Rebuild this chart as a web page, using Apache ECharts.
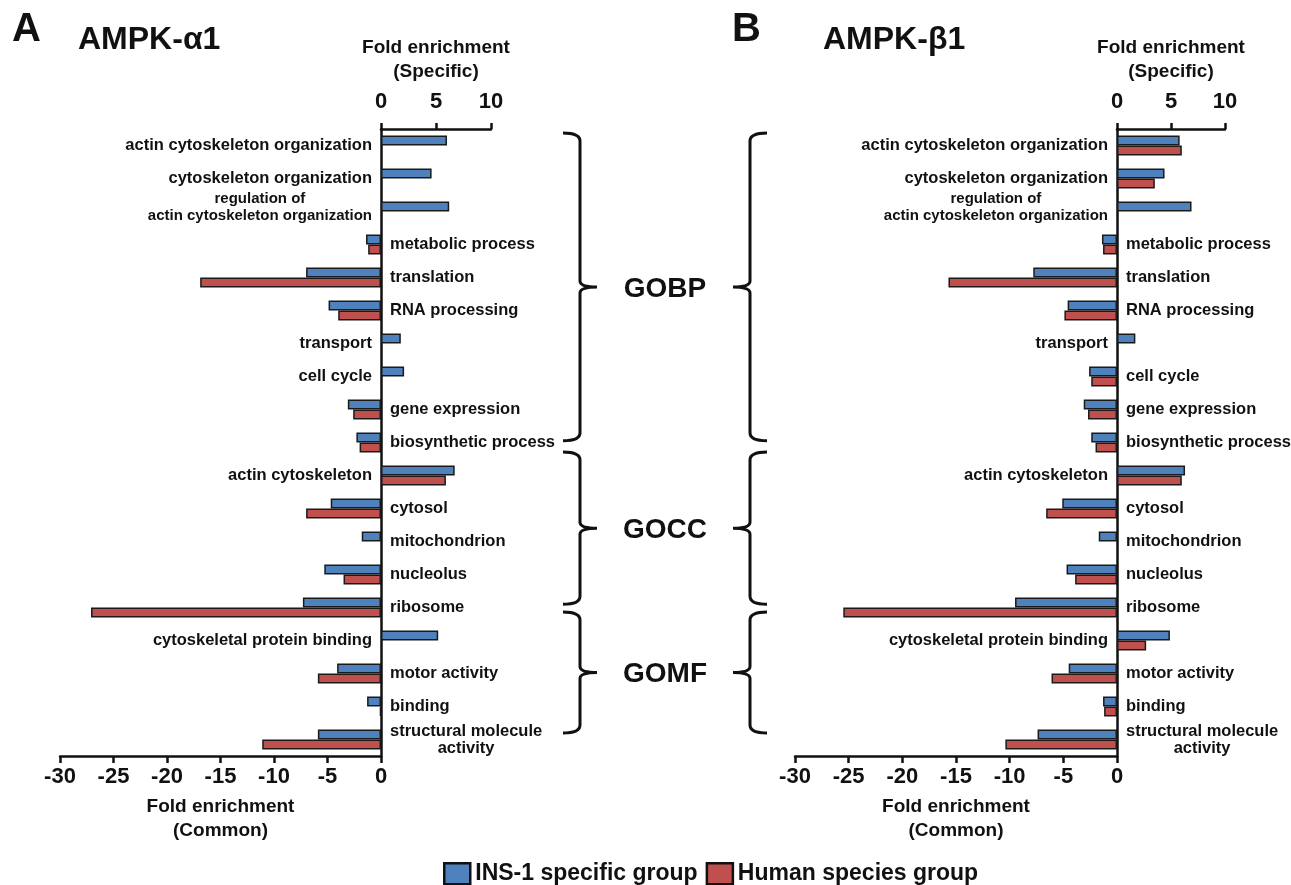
<!DOCTYPE html>
<html><head><meta charset="utf-8">
<script src="https://cdn.jsdelivr.net/npm/echarts@6/dist/echarts.min.js"></script>
<style>html,body{margin:0;padding:0;background:#fff}#c{width:1291px;height:885px}</style>
</head><body><div id="c"></div>
<script>
const categories = [
  'actin cytoskeleton organization', 'cytoskeleton organization',
  'regulation of\nactin cytoskeleton organization', 'metabolic process',
  'translation', 'RNA processing', 'transport', 'cell cycle', 'gene expression',
  'biosynthetic process', 'actin cytoskeleton', 'cytosol', 'mitochondrion',
  'nucleolus', 'ribosome', 'cytoskeletal protein binding', 'motor activity',
  'binding', 'structural molecule\nactivity'
];
const a1Ins   = [6.0, 4.6, 6.2, -1.4, -7.0, -4.9, 1.8, 2.1, -3.1, -2.3, 6.7, -4.7, -1.8, -5.3, -7.3, 5.2, -4.1, -1.3, -5.9];
const a1Human = [null, null, null, -1.2, -16.9, -4.0, null, null, -2.6, -2.0, 5.9, -7.0, null, -3.5, -27.1, null, -5.9, -0.1, -11.1];
const b1Ins   = [5.8, 4.4, 6.9, -1.4, -7.8, -4.6, 1.7, -2.6, -3.1, -2.4, 6.3, -5.1, -1.7, -4.7, -9.5, 4.9, -4.5, -1.3, -7.4];
const b1Human = [6.0, 3.5, null, -1.3, -15.7, -4.9, null, -2.4, -2.7, -2.0, 6.0, -6.6, null, -3.9, -25.5, 2.7, -6.1, -1.2, -10.4];
const commonTicks = [-30, -25, -20, -15, -10, -5, 0];
const specificTicks = [0, 5, 10];
const seriesNames = ['INS-1 specific group', 'Human species group'];
const panelTitles = ['AMPK-\u03b11', 'AMPK-\u03b21'];
const panelLetters = ['A', 'B'];
const groupNames = ['GOBP', 'GOCC', 'GOMF'];
const groupStart = [0, 10, 15];
const groupEnd = [9, 14, 18];

// styling constants (bracket extents in band units)
const braceTopPad = [0.38, 0.71, 0.86];
const braceBotPad = [-0.05, -0.1, -0.2];

const FONT = '"Liberation Sans", Arial, Helvetica, sans-serif';
const INK = '#111';
const BLUE = '#4F81BD';
const RED = '#C0504D';

function fmtLabel(v) {
  if (v.indexOf('regulation') === 0) {
    return v.split('\n').map(s => '{s|' + s + '}').join('\n') + '\n{e| }';
  }
  if (v.indexOf('\n') >= 0) return v.split('\n').map(s => '{c|' + s + '}').join('\n');
  return v;
}
const labelBase = {
  interval: 0, inside: true, margin: 9, fontSize: 16.5, fontWeight: 'bold',
  fontFamily: FONT, color: INK, lineHeight: 17,
  rich: {
    c: { align: 'center', fontSize: 16.5, fontWeight: 'bold', fontFamily: FONT, color: INK, lineHeight: 17 },
    s: { align: 'center', fontSize: 15, fontWeight: 'bold', fontFamily: FONT, color: INK, lineHeight: 17 },
    e: { fontSize: 2, lineHeight: 8 }
  }
};

const panels = [
  { ins: a1Ins, human: a1Human, leftX: 60, leftW: 321, rightW: 110 },
  { ins: b1Ins, human: b1Human, leftX: 795, leftW: 322, rightW: 108 }
];
const TOP = 129, H = 627;

const grid = [], xAxis = [], yAxis = [], series = [], title = [];
panels.forEach((p, k) => {
  const gi = grid.length;
  grid.push({ left: p.leftX, top: TOP, width: p.leftW, height: H, outerBoundsMode: 'none' });
  grid.push({ left: p.leftX + p.leftW, top: TOP, width: p.rightW, height: H, outerBoundsMode: 'none' });
  xAxis.push({
    type: 'value', gridIndex: gi, position: 'bottom',
    min: commonTicks[0], max: commonTicks[commonTicks.length - 1], interval: commonTicks[1] - commonTicks[0],
    axisLine: { show: true, onZero: false, lineStyle: { color: INK, width: 2.5 } },
    axisTick: { show: true, length: 7, lineStyle: { color: INK, width: 2.5 } },
    axisLabel: { fontSize: 22, fontWeight: 'bold', fontFamily: FONT, color: INK, margin: 10 },
    splitLine: { show: false },
    name: 'Fold enrichment\n(Common)', nameLocation: 'middle', nameGap: 39,
    nameTextStyle: { fontSize: 19, fontWeight: 'bold', fontFamily: FONT, color: INK, lineHeight: 24 }
  });
  xAxis.push({
    type: 'value', gridIndex: gi + 1, position: 'top',
    min: specificTicks[0], max: specificTicks[specificTicks.length - 1], interval: specificTicks[1] - specificTicks[0],
    axisLine: { show: true, onZero: false, lineStyle: { color: INK, width: 2.5 } },
    axisTick: { show: true, length: 6, lineStyle: { color: INK, width: 2.5 } },
    axisLabel: { fontSize: 22, fontWeight: 'bold', fontFamily: FONT, color: INK, margin: 16 },
    splitLine: { show: false },
    name: 'Fold enrichment\n(Specific)', nameLocation: 'middle', nameGap: 45,
    nameTextStyle: { fontSize: 19, fontWeight: 'bold', fontFamily: FONT, color: INK, lineHeight: 24 }
  });
  yAxis.push({
    type: 'category', gridIndex: gi, data: categories, inverse: true, position: 'right',
    axisLine: { show: false }, axisTick: { show: false }, splitLine: { show: false },
    axisLabel: Object.assign({}, labelBase, { formatter: (v, i) => p.ins[i] > 0 ? fmtLabel(v) : '' })
  });
  yAxis.push({
    type: 'category', gridIndex: gi + 1, data: categories, inverse: true, position: 'left',
    axisLine: { show: true, onZero: false, lineStyle: { color: INK, width: 2.5 } },
    axisTick: { show: false }, splitLine: { show: false },
    axisLabel: Object.assign({}, labelBase, { formatter: (v, i) => p.ins[i] < 0 ? fmtLabel(v) : '' })
  });
  [[p.ins, BLUE, seriesNames[0]], [p.human, RED, seriesNames[1]]].forEach(([vals, col, nm]) => {
    [[gi, v => (v != null && v < 0) ? v : null], [gi + 1, v => (v != null && v > 0) ? v : null]].forEach(([ax, f]) => {
      series.push({
        type: 'bar', name: nm, xAxisIndex: ax, yAxisIndex: ax,
        data: vals.map(f), barWidth: 10, barGap: '0%',
        itemStyle: { color: col, borderColor: '#1a1a1a', borderWidth: 1.5 },
        emphasis: { disabled: true }, animation: false
      });
    });
  });
  title.push({ text: panelLetters[k], left: k ? 727 : 7, top: 5,
    textStyle: { fontSize: 40, fontWeight: 'bold', fontFamily: FONT, color: INK } });
  title.push({ text: panelTitles[k], left: k ? 818 : 73, top: 19,
    textStyle: { fontSize: 32, fontWeight: 'bold', fontFamily: FONT, color: INK } });
});

// middle grid for the GO brackets
const mg = grid.length;
grid.push({ left: 540, top: TOP, width: 250, height: H, outerBoundsMode: 'none' });
xAxis.push({ type: 'value', gridIndex: mg, min: 0, max: 250, show: false });
yAxis.push({ type: 'category', gridIndex: mg, data: categories, inverse: true, show: false });

function bracePath(h, v, t, top, mid, bot) {
  const r = 8, rm = 6;
  return `M${h} ${top} Q${v} ${top} ${v} ${top + r} L${v} ${mid - rm} Q${v} ${mid} ${t} ${mid} ` +
         `M${t} ${mid} Q${v} ${mid} ${v} ${mid + rm} L${v} ${bot - r} Q${v} ${bot} ${h} ${bot}`;
}
series.push({
  type: 'custom', xAxisIndex: mg, yAxisIndex: mg, animation: false, silent: true,
  data: groupNames.map((n, i) => [0, groupStart[i]]),
  renderItem: (params, api) => {
    const i = params.dataIndex;
    const band = api.size([0, 1])[1];
    const top = api.coord([0, groupStart[i]])[1] - braceTopPad[i] * band;
    const bot = api.coord([0, groupEnd[i]])[1] + braceBotPad[i] * band;
    const mid = (top + bot) / 2;
    const X = v => api.coord([v, groupStart[i]])[0];
    const st = { fill: 'none', stroke: INK, lineWidth: 3 };
    return {
      type: 'group', children: [
        { type: 'path', shape: { pathData: bracePath(X(23), X(40), X(57), top, mid, bot) }, style: st },
        { type: 'path', shape: { pathData: bracePath(X(227), X(210), X(193), top, mid, bot) }, style: st },
        { type: 'text', style: { text: groupNames[i], x: X(125), y: mid + 2, align: 'center', verticalAlign: 'middle',
          fontSize: 28, fontWeight: 'bold', fontFamily: FONT, fill: INK } }
      ]
    };
  }
});

const chart = echarts.init(document.getElementById('c'), null, { renderer: 'canvas' });
chart.setOption({
  backgroundColor: '#fff',
  animation: false,
  title: title,
  grid: grid, xAxis: xAxis, yAxis: yAxis, series: series,
  legend: {
    data: seriesNames, left: 438, top: 857, itemWidth: 26, itemHeight: 21, itemGap: 8,
    icon: 'rect',
    itemStyle: { borderColor: INK, borderWidth: 2.5 },
    textStyle: { fontSize: 23, fontWeight: 'bold', fontFamily: FONT, color: INK }
  }
});
</script></body></html>
